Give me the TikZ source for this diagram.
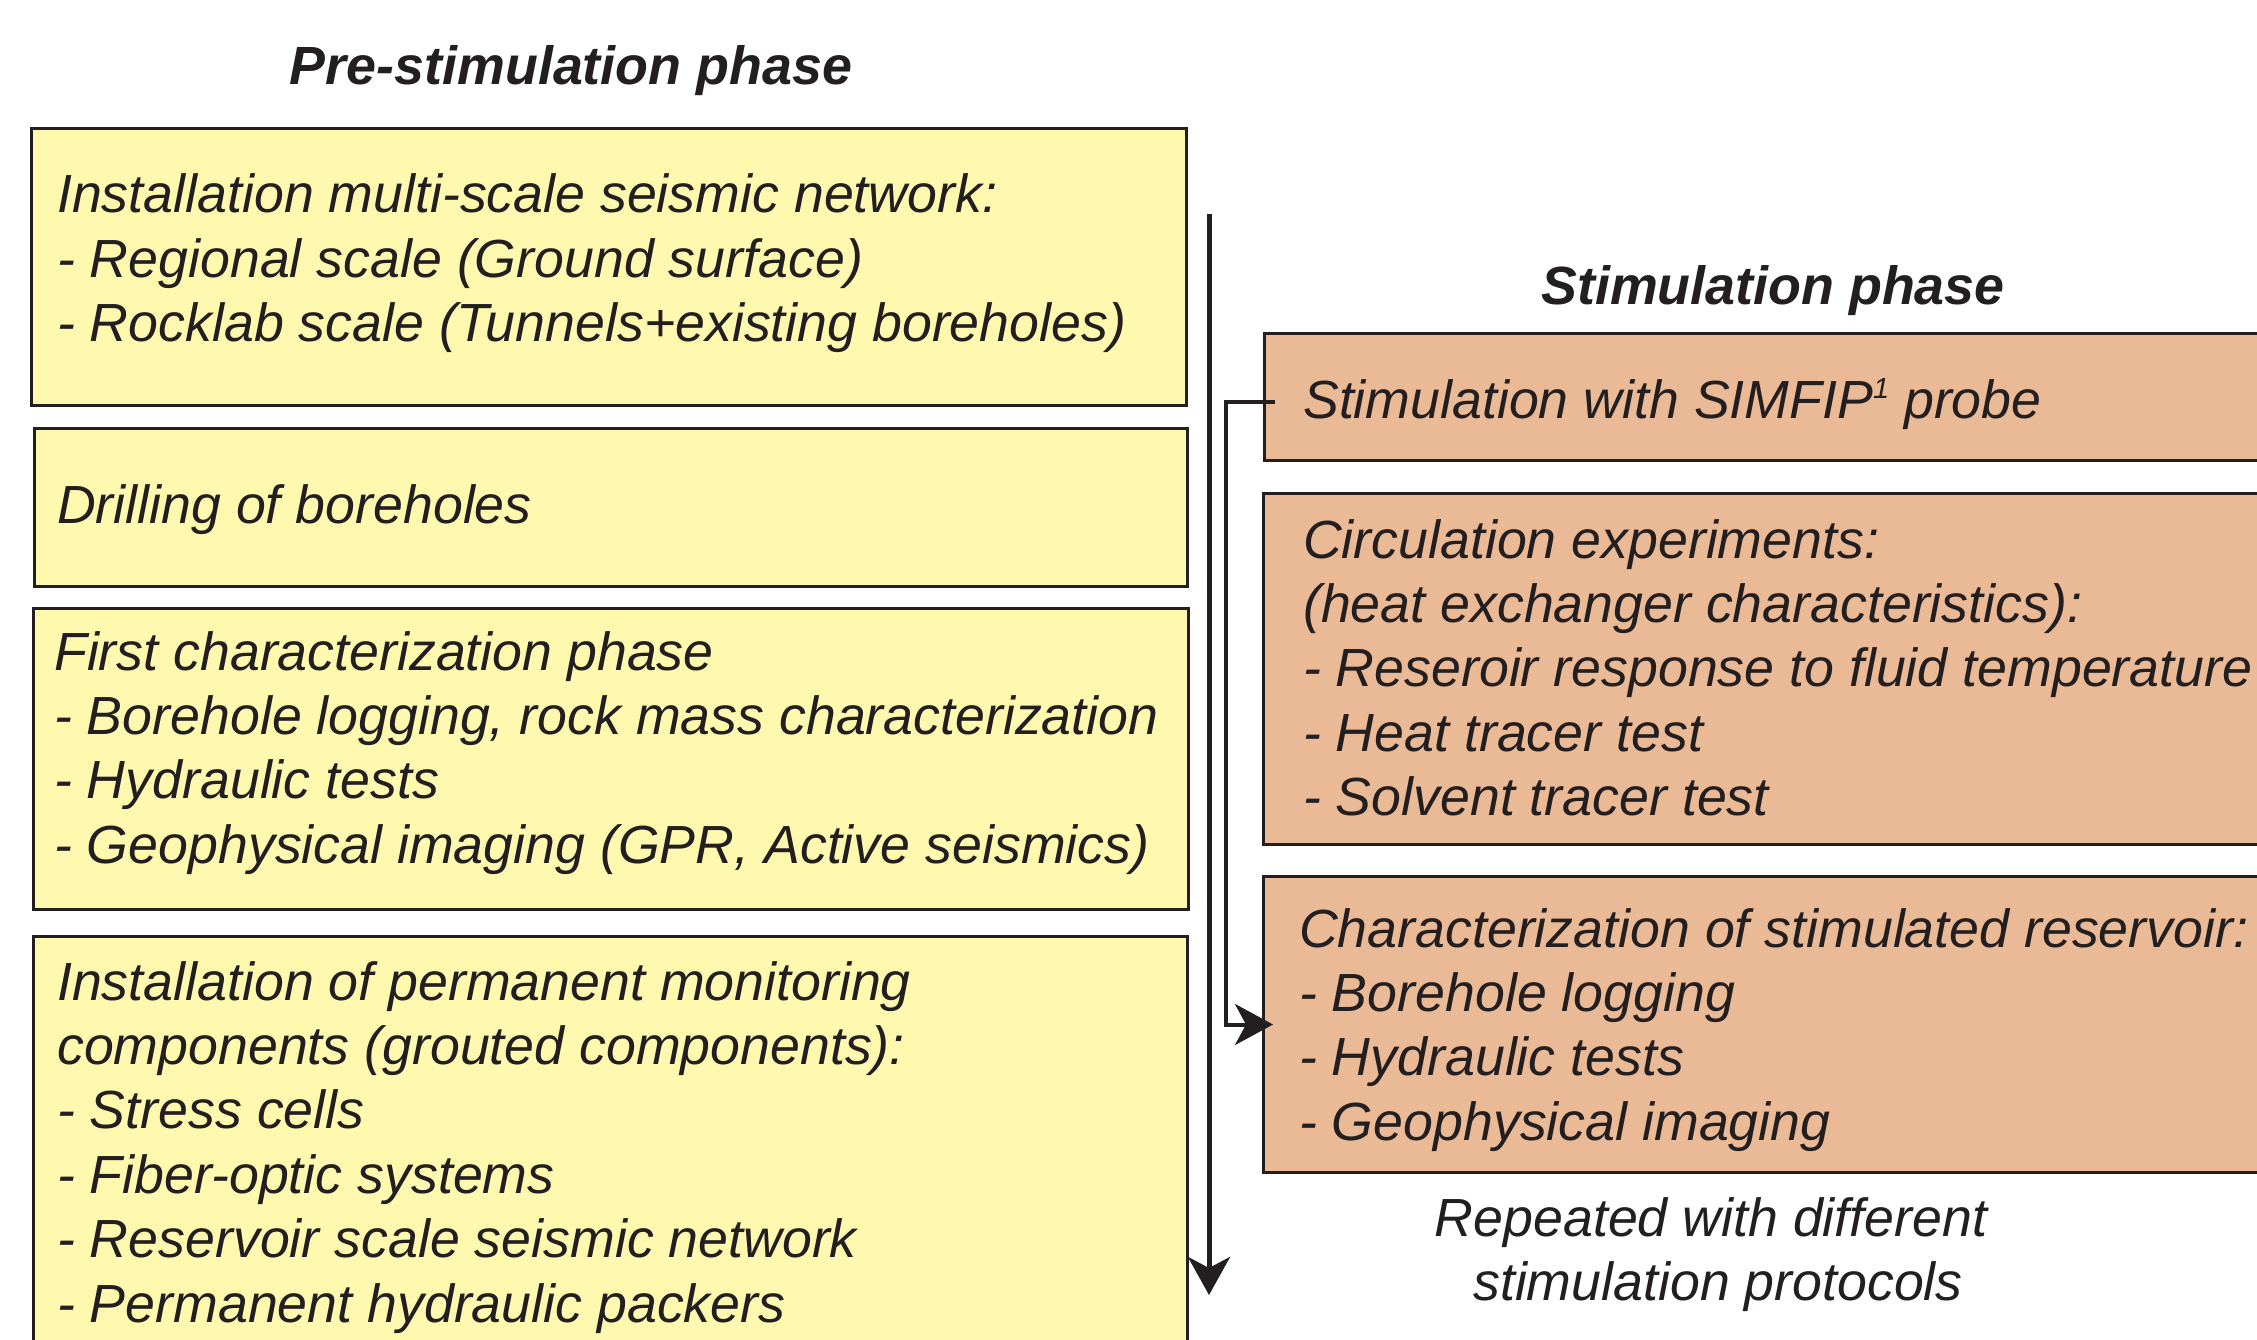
\documentclass[tikz,border=0pt]{standalone}
\usepackage{fontspec}
\setmainfont{Liberation Sans}
\usetikzlibrary{arrows.meta}
\definecolor{boxyellow}{RGB}{255,249,176}
\definecolor{boxorange}{RGB}{234,185,150}
\definecolor{ink}{RGB}{35,31,32}
\newcommand{\mylines}[1]{\vtop{\baselineskip=64.4pt\lineskiplimit=-200pt\lineskip=0pt #1}}
\newcommand{\supone}{\raisebox{0.36em}{\fontsize{29}{29}\selectfont 1}}
\tikzset{
  x=1pt, y=-1pt,
  ybox/.style={draw=ink, line width=3pt, fill=boxyellow, rectangle, inner sep=0pt, anchor=north west},
  obox/.style={draw=ink, line width=3pt, fill=boxorange, rectangle, inner sep=0pt, anchor=north west},
  txt/.style={anchor=base west, inner sep=0pt, text=ink, font=\fontsize{53.7}{64.4}\selectfont\itshape},
  ttl/.style={anchor=base, inner sep=0pt, text=ink, font=\fontsize{53.8}{64}\selectfont\bfseries\itshape},
  rep/.style={anchor=base, inner sep=0pt, text=ink, font=\fontsize{53.7}{64.4}\selectfont\itshape},
  mainarrow/.style={draw=ink, line width=5pt, -{Stealth[length=38pt, width=42pt, inset=11pt]}},
  conn/.style={draw=ink, line width=4pt, -{Stealth[length=38pt, width=41pt, inset=11pt]}}
}
\begin{document}
\begin{tikzpicture}
\useasboundingbox (0,0) rectangle (2257,1340);
\clip (0,0) rectangle (2257,1340);
\fill[white] (0,0) rectangle (2257,1340);

% titles
\node[ttl] (t1) at (571,85) {Pre-stimulation phase};
\node[ttl] (t2) at (1773,305) {Stimulation phase};

% left column boxes
\node[ybox, minimum width=1155pt, minimum height=277pt] (b1) at (30,127) {};
\node[ybox, minimum width=1153pt, minimum height=158pt] (b2) at (33,427) {};
\node[ybox, minimum width=1155pt, minimum height=301pt] (b3) at (32,607) {};
\node[ybox, minimum width=1154pt, minimum height=430pt] (b4) at (32,935) {};

\node[txt] (b1t) at (57,213) {\mylines{\hbox{Installation multi-scale seismic network:}\hbox{- Regional scale (Ground surface)}\hbox{- Rocklab scale (Tunnels+existing boreholes)}}};
\node[txt] (b2t) at (57,523) {Drilling of boreholes};
\node[txt] (b3t) at (54,670) {\mylines{\hbox{First characterization phase}\hbox{- Borehole logging, rock mass characterization}\hbox{- Hydraulic tests}\hbox{- Geophysical imaging (GPR, Active seismics)}}};
\node[txt] (b4t) at (57,1000) {\mylines{\hbox{Installation of permanent monitoring}\hbox{components (grouted components):}\hbox{- Stress cells}\hbox{- Fiber-optic systems}\hbox{- Reservoir scale seismic network}\hbox{- Permanent hydraulic packers}}};

% right column boxes
\node[obox, minimum width=1020pt, minimum height=127pt] (s1) at (1263,332) {};
\node[obox, minimum width=1020pt, minimum height=351pt] (s2) at (1262,492) {};
\node[obox, minimum width=1020pt, minimum height=296pt] (s3) at (1262,875) {};

\node[txt] (s1t) at (1303,418) {Stimulation with SIMFIP\supone{} probe};
\node[txt] (s2t) at (1303,558) {\mylines{\hbox{Circulation experiments:}\hbox{(heat exchanger characteristics):}\hbox{- Reseroir response to fluid temperature}\hbox{- Heat tracer test}\hbox{- Solvent tracer test}}};
\node[txt] (s3t) at (1299,947) {\mylines{\hbox{Characterization of stimulated reservoir:}\hbox{- Borehole logging}\hbox{- Hydraulic tests}\hbox{- Geophysical imaging}}};

\node[rep] (r1) at (1711,1236) {Repeated with different};
\node[rep] (r2) at (1718,1300) {stimulation protocols};

% main time arrow
\coordinate (vstart) at (1209,214);
\coordinate (vend) at (1209,1295);
\draw[mainarrow] (vstart) -- (vend);

% repetition connector
\draw[conn] ([xshift=12pt,yshift=-4.5pt]s1.west) -| ([xshift=-36pt]s3.west) -- ([xshift=11pt]s3.west);
\end{tikzpicture}
\end{document}
